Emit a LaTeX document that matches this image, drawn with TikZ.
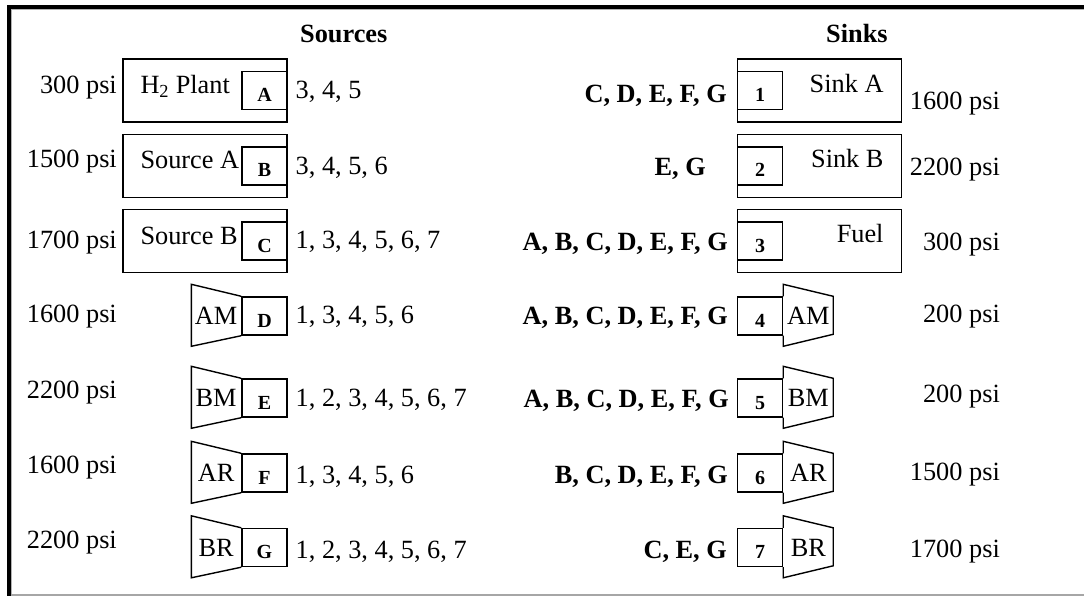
\documentclass[tikz,border=0pt]{standalone}
\usepackage{fontspec}
\setmainfont{Liberation Serif}
\usepackage{tikz}
\usetikzlibrary{positioning}
\newcommand{\rowfont}{\fontsize{26.3}{31}\selectfont}
\newcommand{\tagfont}{\fontsize{20}{24}\selectfont\bfseries}
\tikzstyle{unit}     = [rectangle, draw, line width=1.4pt, minimum width=164pt, minimum height=63pt, inner sep=0pt]
\tikzstyle{tag}      = [rectangle, draw, line width=1.4pt, minimum width=45pt, minimum height=38pt, inner sep=0pt, text height=22pt, text depth=0pt, font=\tagfont]
\tikzstyle{comp}     = [draw, line width=1.4pt]
\tikzstyle{compname} = [minimum width=50pt, inner sep=0pt]
\tikzstyle{unitname} = [inner sep=0pt]
\tikzstyle{psi}      = [inner sep=0pt]
\tikzstyle{links}    = [anchor=base west, inner sep=0pt]
\tikzstyle{feeds}    = [anchor=base east, inner sep=0pt, font=\rowfont\bfseries]
\tikzstyle{head}     = [anchor=base west, inner sep=0pt, font=\rowfont\bfseries]
\tikzstyle{frame}    = [line width=4pt]

\begin{document}
\begin{tikzpicture}[x=1pt, y=-1pt, font=\rowfont]
    \useasboundingbox (0,0) rectangle (1084,596);
    % border
    \draw[gray!60, line width=0.8pt] (11.4,596) -- (11.4,9.4) -- (1084,9.4);
    \draw[gray!70, line width=2pt] (9,595) -- (1084,595);
    \draw[frame] (9,596) -- (9,7) -- (1084,7);

    \node[head](srchead) at (300,43){Sources};
    \node[head](snkhead) at (826,43){Sinks};

    % sources
    \node[tag](tagA) at (264.5,90.5){A};
    \node[tag](tagB) at (264.5,166){B};
    \node[tag](tagC) at (264.5,241){C};
    \node[tag](tagD) at (264.5,316){D};
    \node[tag](tagE) at (264.5,398){E};
    \node[tag](tagF) at (264.5,473){F};
    \node[tag](tagG) at (264.5,547.5){G};
    \node[unit, anchor=east](srcA) at (tagA.east){};
    \node[unit, anchor=east](srcB) at (tagB.east){};
    \node[unit, anchor=east](srcC) at (tagC.east){};
    \node[unitname, anchor=base west](nameA) at ([shift={(18pt,-3pt)}]srcA.west){H\textsubscript{2} Plant};
    \node[unitname, anchor=base west](nameB) at ([shift={(18pt,-3pt)}]srcB.west){Source A};
    \node[unitname, anchor=base west](nameC) at ([shift={(18pt,-3pt)}]srcC.west){Source B};
    \draw[comp] (tagD.north west) -- ++(-50,-12) -- ++(0,62) -- (tagD.south west);
    \draw[comp] (tagE.north west) -- ++(-50,-12) -- ++(0,62) -- (tagE.south west);
    \draw[comp] (tagF.north west) -- ++(-50,-12) -- ++(0,62) -- (tagF.south west);
    \draw[comp] (tagG.north west) -- ++(-50,-12) -- ++(0,62) -- (tagG.south west);
    \node[compname, left=0pt of tagD](compD){AM};
    \node[compname, left=0pt of tagE](compE){BM};
    \node[compname, left=0pt of tagF](compF){AR};
    \node[compname, left=0pt of tagG](compG){BR};
    \node[psi, anchor=base east](psiA) at (117,94){300 psi};
    \node[psi, anchor=base east](psiB) at (117,168){1500 psi};
    \node[psi, anchor=base east](psiC) at (117,248){1700 psi};
    \node[psi, anchor=base east](psiD) at (117,322){1600 psi};
    \node[psi, anchor=base east](psiE) at (117,398){2200 psi};
    \node[psi, anchor=base east](psiF) at (117,473){1600 psi};
    \node[psi, anchor=base east](psiG) at (117,548){2200 psi};
    \node[links](toA) at (295.5,99){3, 4, 5};
    \node[links](toB) at (295.5,175){3, 4, 5, 6};
    \node[links](toC) at (295.5,248){1, 3, 4, 5, 6, 7};
    \node[links](toD) at (295.5,323){1, 3, 4, 5, 6};
    \node[links](toE) at (295.5,406){1, 2, 3, 4, 5, 6, 7};
    \node[links](toF) at (295.5,483){1, 3, 4, 5, 6};
    \node[links](toG) at (295.5,558){1, 2, 3, 4, 5, 6, 7};

    % sinks
    \node[tag](tag1) at (760,90.5){1};
    \node[tag](tag2) at (760,166){2};
    \node[tag](tag3) at (760,241){3};
    \node[tag](tag4) at (760,316){4};
    \node[tag](tag5) at (760,398){5};
    \node[tag](tag6) at (760,473){6};
    \node[tag](tag7) at (760,547.5){7};
    \node[unit, anchor=west](snk1) at (tag1.west){};
    \node[unit, anchor=west](snk2) at (tag2.west){};
    \node[unit, anchor=west](snk3) at (tag3.west){};
    \node[unitname, anchor=base east](name1) at ([shift={(-18.5pt,-2pt)}]snk1.east){Sink A};
    \node[unitname, anchor=base east](name2) at ([shift={(-18.5pt,-2pt)}]snk2.east){Sink B};
    \node[unitname, anchor=base east](name3) at ([shift={(-18.5pt,-2pt)}]snk3.east){Fuel};
    \draw[comp] (tag4.north east) -- ++(0,-12) -- ++(50,12) -- ++(0,38) -- ++(-50,12) -- (tag4.south east);
    \draw[comp] (tag5.north east) -- ++(0,-12) -- ++(50,12) -- ++(0,38) -- ++(-50,12) -- (tag5.south east);
    \draw[comp] (tag6.north east) -- ++(0,-12) -- ++(50,12) -- ++(0,38) -- ++(-50,12) -- (tag6.south east);
    \draw[comp] (tag7.north east) -- ++(0,-12) -- ++(50,12) -- ++(0,38) -- ++(-50,12) -- (tag7.south east);
    \node[compname, right=0pt of tag4](comp4){AM};
    \node[compname, right=0pt of tag5](comp5){BM};
    \node[compname, right=0pt of tag6](comp6){AR};
    \node[compname, right=0pt of tag7](comp7){BR};
    \node[psi, anchor=base east](psi1) at (1000,110){1600 psi};
    \node[psi, anchor=base east](psi2) at (1000,176){2200 psi};
    \node[psi, anchor=base east](psi3) at (1000,250){300 psi};
    \node[psi, anchor=base east](psi4) at (1000,322){200 psi};
    \node[psi, anchor=base east](psi5) at (1000,402){200 psi};
    \node[psi, anchor=base east](psi6) at (1000,480){1500 psi};
    \node[psi, anchor=base east](psi7) at (1000,557){1700 psi};
    \node[feeds](from1) at (727,103){C, D, E, F, G};
    \node[feeds](from2) at (706,176){E, G};
    \node[feeds](from3) at (728,251){A, B, C, D, E, F, G};
    \node[feeds](from4) at (728,324){A, B, C, D, E, F, G};
    \node[feeds](from5) at (729,407){A, B, C, D, E, F, G};
    \node[feeds](from6) at (728,483){B, C, D, E, F, G};
    \node[feeds](from7) at (727,558){C, E, G};
\end{tikzpicture}
\end{document}
